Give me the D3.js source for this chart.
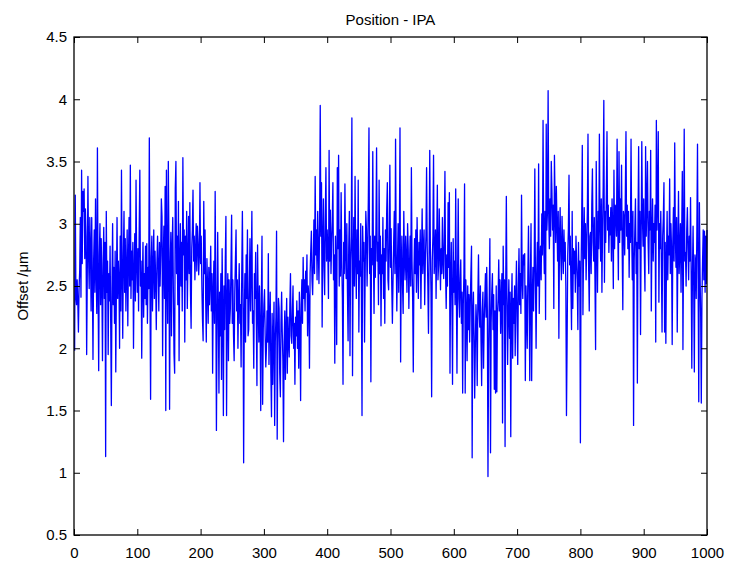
<!DOCTYPE html>
<html>
<head>
<meta charset="utf-8">
<script src="https://cdn.jsdelivr.net/npm/d3@7"></script>
<style>
  html, body { margin: 0; padding: 0; background: #fff; }
  svg { display: block; }
  text { font-family: "Liberation Sans", Arial, Helvetica, sans-serif; fill: #000; }
</style>
</head>
<body>
<svg id="chart" width="731" height="567"></svg>
<script>
// Position offset samples (µm), one per measurement index 1..1000
const offsets = [
  1.98,3.23,2.42,2.35,2.55,2.38,2.13,2.48,2.62,3.05,2.41,3.43,2.68,3.26,3.10,3.28,2.72,3.12,2.90,1.95,2.60,3.38,2.75,2.48,3.05,
  2.82,2.30,3.05,2.55,1.91,2.70,2.95,2.45,3.20,2.62,2.28,3.61,2.50,1.82,2.75,3.00,2.35,2.88,2.52,1.90,2.68,2.97,2.40,2.85,1.13,
  3.10,2.45,2.70,1.95,2.60,2.38,2.82,2.20,1.54,2.48,3.00,2.35,2.65,2.20,2.78,1.81,2.50,3.05,2.40,2.70,2.55,2.00,2.90,2.30,3.43,
  2.60,2.08,2.75,3.10,2.45,2.88,2.30,2.62,2.95,2.18,2.70,3.05,2.50,3.47,2.40,2.78,2.55,2.85,2.00,2.60,2.92,2.38,3.35,2.68,2.45,
  2.80,2.30,2.95,3.43,2.50,2.70,1.92,2.55,2.85,2.25,2.60,2.40,2.82,2.35,2.84,2.20,2.65,2.48,3.69,2.50,1.59,2.72,2.90,2.30,2.62,
  2.95,2.40,2.78,2.55,2.15,2.68,2.90,2.64,2.30,2.85,2.50,2.75,3.20,3.06,1.94,2.72,2.98,2.40,3.30,1.50,3.43,2.60,2.20,3.50,2.80,
  1.51,2.65,2.93,2.10,2.80,3.05,2.45,1.95,1.80,3.28,3.50,2.60,2.90,2.35,3.18,1.90,2.70,3.00,2.50,2.85,2.30,3.53,2.75,2.95,2.05,
  2.90,2.55,3.10,2.32,2.70,3.06,2.60,3.17,2.45,2.16,2.80,2.95,3.27,2.70,2.90,2.55,2.78,3.00,2.62,2.98,2.85,2.59,2.75,3.33,2.68,
  2.90,2.50,2.23,2.06,3.18,2.60,2.95,2.40,2.05,2.72,2.50,2.20,2.65,2.35,2.55,2.82,2.30,2.60,1.80,2.45,2.70,2.20,3.26,2.50,1.34,
  2.20,2.93,2.30,1.64,2.45,2.10,2.60,1.75,2.80,2.30,1.46,2.50,2.15,2.70,3.06,1.46,2.35,2.60,1.90,2.55,2.20,2.32,2.65,3.07,2.20,
  2.55,2.10,1.90,2.45,2.70,2.95,2.30,2.55,2.00,2.40,2.68,2.20,2.35,1.85,2.60,3.10,2.45,1.08,2.25,2.60,2.05,2.75,2.40,2.95,2.10,
  2.15,2.50,2.88,2.30,2.60,3.10,2.20,2.30,1.84,2.60,2.40,2.77,2.25,1.70,2.83,2.35,2.05,2.50,2.20,1.50,2.40,2.90,1.55,2.15,2.35,
  2.47,2.10,1.85,2.00,2.30,2.05,2.76,1.87,2.20,2.45,1.80,1.45,2.28,1.71,2.10,2.37,1.38,2.05,2.25,2.94,1.27,2.00,2.40,2.32,1.80,
  1.61,2.20,2.45,2.13,1.90,1.25,2.05,2.30,1.75,2.15,2.40,1.80,2.25,2.05,1.93,2.35,2.60,2.10,2.04,2.30,2.50,2.00,2.20,1.71,2.25,
  2.10,2.38,2.00,2.30,1.84,2.45,2.20,1.58,2.35,2.55,2.20,2.73,2.40,2.55,2.30,2.62,2.45,2.75,2.10,2.50,2.40,1.84,2.60,2.78,2.94,
  2.55,2.43,2.70,3.03,2.60,3.38,2.75,2.95,2.55,3.10,2.80,2.52,3.00,3.95,2.90,3.33,2.17,2.85,3.20,2.65,2.43,3.05,3.45,2.70,2.95,
  2.78,2.40,3.59,2.70,3.11,2.60,2.85,3.02,3.33,2.55,2.75,1.88,2.90,2.65,2.03,3.45,2.80,3.55,2.50,2.95,2.58,3.25,2.70,2.40,1.71,
  2.85,2.60,3.32,2.75,2.56,3.00,2.45,2.06,2.80,3.10,1.94,2.70,2.90,3.85,1.78,2.65,3.05,2.50,3.38,2.75,2.40,2.95,2.60,3.35,2.13,
  2.70,2.58,3.00,2.45,1.46,2.98,2.70,2.85,2.05,2.60,3.10,2.95,2.50,2.80,3.20,3.77,2.60,2.90,1.73,2.80,2.67,3.58,2.75,2.28,2.90,
  2.57,2.95,3.61,2.70,2.85,2.35,3.35,2.60,2.90,2.18,2.75,2.60,3.05,2.40,2.80,2.20,2.95,2.70,3.10,3.33,2.55,2.47,2.90,3.47,2.65,
  2.96,2.50,2.20,2.55,2.85,3.10,2.60,3.68,2.75,2.30,2.70,3.00,2.45,2.85,3.77,1.89,2.65,2.90,2.50,2.28,3.10,2.75,2.55,2.90,2.71,
  2.45,3.00,2.80,2.32,2.65,2.90,2.50,3.45,2.70,2.40,1.81,2.60,2.88,2.60,2.95,2.45,3.05,2.70,2.40,2.85,2.67,2.95,2.32,2.75,3.12,
  2.60,2.80,2.95,2.35,2.70,2.90,3.45,2.82,2.50,2.12,2.75,3.59,2.80,2.45,1.61,2.70,2.90,3.55,2.60,2.72,2.95,2.40,2.85,3.31,2.55,
  2.67,3.12,2.75,2.47,2.80,2.60,3.05,2.70,2.56,2.90,3.42,2.60,2.32,2.75,2.50,3.17,2.65,3.25,1.80,2.55,2.85,2.40,1.71,2.88,2.45,
  2.70,2.35,3.28,2.50,1.80,2.60,3.20,2.40,2.25,2.55,2.71,2.20,2.45,1.64,2.35,2.60,3.32,1.64,2.55,2.30,1.90,2.50,2.15,2.43,2.05,
  2.35,2.60,2.82,1.12,2.28,2.45,2.10,1.60,2.00,2.35,2.20,1.70,2.40,2.75,2.30,2.17,2.50,2.05,1.70,2.30,2.45,1.84,2.20,2.40,2.60,
  2.25,2.65,2.30,0.97,1.98,2.40,2.88,1.16,2.20,2.45,2.60,2.15,2.43,1.67,2.30,1.64,2.50,1.65,2.28,2.40,2.71,2.30,2.55,2.12,2.40,
  2.60,1.40,2.82,2.35,2.55,1.21,2.50,3.22,2.40,1.87,2.30,2.55,2.08,2.45,1.29,2.31,2.60,1.92,2.40,2.20,2.50,1.94,2.43,2.70,2.25,
  1.87,2.50,2.80,2.35,2.60,2.28,3.23,2.55,2.40,2.75,2.67,2.76,1.74,2.50,2.30,2.00,2.60,2.98,2.45,1.74,2.55,3.00,1.74,2.40,2.65,
  2.30,2.67,3.44,2.55,2.00,2.60,2.85,2.50,3.48,2.28,2.70,2.82,2.55,3.08,2.75,3.83,2.88,2.60,3.10,2.23,3.80,2.95,3.10,4.07,3.05,
  2.80,3.20,2.90,3.50,3.27,2.95,3.15,2.32,3.55,3.17,2.85,3.30,3.00,2.70,3.10,2.08,2.90,3.13,2.75,2.55,3.06,2.80,2.60,2.95,2.70,
  2.85,2.50,1.46,2.05,2.75,2.95,3.39,2.67,2.90,2.50,2.15,3.10,2.32,2.80,2.60,2.78,2.45,2.90,2.70,2.55,2.15,2.85,2.50,2.70,1.24,
  2.60,3.00,3.63,2.27,2.80,3.13,2.72,3.00,2.55,2.85,3.10,3.72,2.65,2.30,2.90,2.93,2.60,3.15,3.44,2.85,2.70,3.05,2.55,1.99,3.50,
  2.90,2.45,3.10,2.80,3.72,3.00,2.70,3.20,2.45,2.95,3.30,3.99,2.53,3.10,2.85,3.25,3.74,2.95,3.15,2.77,3.05,2.91,3.13,2.70,3.20,
  2.95,2.48,3.43,2.80,3.15,3.10,2.90,3.68,3.00,2.55,3.58,2.85,3.20,2.95,3.47,2.80,2.31,3.10,3.05,2.75,3.25,3.74,2.90,3.15,2.80,
  3.10,2.57,3.00,2.85,3.68,2.95,2.55,3.10,1.38,2.70,2.95,3.20,2.60,2.85,1.72,3.00,3.62,2.80,3.10,2.11,2.90,3.66,3.05,2.82,3.20,
  2.75,2.46,3.62,2.90,3.15,3.50,2.85,2.60,3.10,2.95,3.59,2.30,2.90,3.20,2.70,3.00,2.85,3.15,2.05,3.83,2.95,3.20,3.74,2.37,3.00,
  2.80,3.10,2.65,2.13,2.90,3.05,3.33,2.13,2.85,2.04,2.70,3.10,2.55,2.90,2.75,3.36,2.60,3.00,2.80,2.03,2.85,3.13,2.70,3.65,2.90,
  2.65,3.05,2.13,2.80,3.26,2.60,2.78,3.00,2.45,2.90,3.42,1.99,2.85,3.76,2.70,2.77,2.50,2.95,3.13,2.80,2.55,2.90,2.70,3.21,2.60,
  1.84,2.60,2.98,2.50,1.81,2.75,2.70,2.40,2.95,3.64,2.55,1.57,3.17,2.60,2.27,1.56,2.40,2.70,2.95,2.55,2.94,2.45,2.90,2.52,2.95
];

// Axis ranges and tick values
const xDomain = [0, 1000];
const yDomain = [0.5, 4.5];
const xTicks = [0, 100, 200, 300, 400, 500, 600, 700, 800, 900, 1000];
const yTicks = [0.5, 1, 1.5, 2, 2.5, 3, 3.5, 4, 4.5];

const titleText = "Position - IPA";
const yLabelText = "Offset /\u03bcm";

const svg = d3.select("#chart");
const plotLeft = 74, plotRight = 707, plotTop = 37, plotBottom = 535;

const x = d3.scaleLinear().domain(xDomain).range([plotLeft, plotRight]);
const y = d3.scaleLinear().domain(yDomain).range([plotBottom, plotTop]);

// Data line
const line = d3.line()
  .x((d, i) => x(i + 1))
  .y(d => y(d));

svg.append("path")
  .datum(offsets)
  .attr("d", line)
  .attr("fill", "none")
  .attr("stroke", "#0000ff")
  .attr("stroke-width", 1.3)
  .attr("stroke-linejoin", "round");

const fmt = d => String(d);
const tickLen = 6;

// Bottom axis with labels (ticks point inward)
const gx = svg.append("g")
  .attr("transform", `translate(0,${plotBottom})`)
  .call(d3.axisBottom(x).tickValues(xTicks).tickFormat(fmt)
    .tickSizeInner(-tickLen).tickSizeOuter(0).tickPadding(12));

// Left axis with labels
const gy = svg.append("g")
  .attr("transform", `translate(${plotLeft},0)`)
  .call(d3.axisLeft(y).tickValues(yTicks).tickFormat(fmt)
    .tickSizeInner(-tickLen).tickSizeOuter(0).tickPadding(7));

// Top and right axes: ticks only
const gt = svg.append("g")
  .attr("transform", `translate(0,${plotTop})`)
  .call(d3.axisTop(x).tickValues(xTicks).tickFormat("")
    .tickSizeInner(-tickLen).tickSizeOuter(0));
const gr = svg.append("g")
  .attr("transform", `translate(${plotRight},0)`)
  .call(d3.axisRight(y).tickValues(yTicks).tickFormat("")
    .tickSizeInner(-tickLen).tickSizeOuter(0));

[gx, gy, gt, gr].forEach(g => {
  g.select(".domain").remove();
  g.selectAll(".tick line").attr("stroke", "#000").attr("stroke-width", 1);
  g.selectAll("text").attr("font-size", 15)
    .attr("font-family", "'Liberation Sans', Arial, sans-serif").attr("fill", "#000");
});

// Plot box
svg.append("rect")
  .attr("x", plotLeft).attr("y", plotTop)
  .attr("width", plotRight - plotLeft).attr("height", plotBottom - plotTop)
  .attr("fill", "none").attr("stroke", "#000").attr("stroke-width", 1.3);

// Title
svg.append("text")
  .attr("x", (plotLeft + plotRight) / 2).attr("y", 25)
  .attr("text-anchor", "middle")
  .attr("font-size", 15)
  .text(titleText);

// Y label
svg.append("text")
  .attr("transform", `translate(28,${(plotTop + plotBottom) / 2}) rotate(-90)`)
  .attr("text-anchor", "middle")
  .attr("font-size", 15)
  .text(yLabelText);
</script>
</body>
</html>
